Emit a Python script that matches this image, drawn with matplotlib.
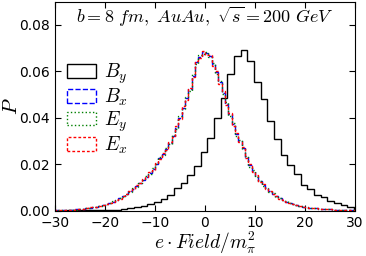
import matplotlib
matplotlib.use("Agg")
import matplotlib.pyplot as plt
import numpy as np

plt.rcParams['mathtext.fontset'] = 'cm'

# B_y: 46 bins of width 4/3, starting at -30.2
by_start = -30.2
by_width = 4.0 / 3.0
B_y = [0.0000, 0.0000, 0.0001, 0.0001, 0.0001, 0.0002, 0.0002, 0.0003, 0.0004,
       0.0005, 0.0007, 0.0010, 0.0015, 0.0020, 0.0028, 0.0036, 0.0049, 0.0068,
       0.0097, 0.0121, 0.0155, 0.0194, 0.0251, 0.0313, 0.0400, 0.0487, 0.0587,
       0.0664, 0.0693, 0.0645, 0.0554, 0.0482, 0.0388, 0.0309, 0.0241, 0.0195,
       0.0156, 0.0110, 0.0094, 0.0068, 0.0058, 0.0043, 0.0032, 0.0023, 0.0015,
       0.0009]

# B_x, E_y, E_x: 90 bins of width 2/3 from -30 to 30
e_start = -30.0
e_width = 2.0 / 3.0
B_x = [0.0001, 0.0001, 0.0002, 0.0002, 0.0003, 0.0004, 0.0006, 0.0008, 0.0009, 0.0010,
       0.0013, 0.0015, 0.0017, 0.0020, 0.0025, 0.0029, 0.0034, 0.0039, 0.0046, 0.0053,
       0.0062, 0.0072, 0.0083, 0.0094, 0.0106, 0.0119, 0.0133, 0.0147, 0.0163, 0.0180,
       0.0203, 0.0225, 0.0245, 0.0265, 0.0292, 0.0320, 0.0357, 0.0400, 0.0443, 0.0483,
       0.0523, 0.0580, 0.0638, 0.0660, 0.0681, 0.0678, 0.0666, 0.0630, 0.0595, 0.0552,
       0.0508, 0.0461, 0.0414, 0.0371, 0.0328, 0.0299, 0.0270, 0.0232, 0.0195, 0.0172,
       0.0150, 0.0126, 0.0111, 0.0097, 0.0084, 0.0072, 0.0063, 0.0054, 0.0046, 0.0039,
       0.0034, 0.0029, 0.0024, 0.0020, 0.0017, 0.0015, 0.0013, 0.0011, 0.0010, 0.0009,
       0.0008, 0.0007, 0.0006, 0.0005, 0.0005, 0.0004, 0.0003, 0.0003, 0.0002, 0.0002]
E_y = [0.0001, 0.0001, 0.0002, 0.0002, 0.0003, 0.0004, 0.0005, 0.0007, 0.0009, 0.0011,
       0.0012, 0.0015, 0.0018, 0.0021, 0.0024, 0.0030, 0.0033, 0.0040, 0.0045, 0.0054,
       0.0061, 0.0073, 0.0082, 0.0096, 0.0104, 0.0121, 0.0131, 0.0150, 0.0160, 0.0184,
       0.0199, 0.0229, 0.0240, 0.0270, 0.0288, 0.0326, 0.0351, 0.0406, 0.0436, 0.0490,
       0.0517, 0.0588, 0.0630, 0.0668, 0.0675, 0.0684, 0.0660, 0.0637, 0.0588, 0.0558,
       0.0501, 0.0467, 0.0408, 0.0377, 0.0322, 0.0304, 0.0264, 0.0237, 0.0190, 0.0176,
       0.0146, 0.0129, 0.0108, 0.0099, 0.0082, 0.0074, 0.0061, 0.0055, 0.0045, 0.0040,
       0.0033, 0.0030, 0.0023, 0.0021, 0.0016, 0.0015, 0.0012, 0.0011, 0.0010, 0.0009,
       0.0008, 0.0007, 0.0006, 0.0005, 0.0004, 0.0004, 0.0003, 0.0003, 0.0002, 0.0002]
E_x = [0.0001, 0.0001, 0.0002, 0.0003, 0.0003, 0.0004, 0.0006, 0.0008, 0.0008, 0.0010,
       0.0014, 0.0014, 0.0018, 0.0019, 0.0026, 0.0028, 0.0035, 0.0038, 0.0047, 0.0052,
       0.0064, 0.0070, 0.0085, 0.0092, 0.0109, 0.0117, 0.0136, 0.0144, 0.0167, 0.0177,
       0.0207, 0.0221, 0.0249, 0.0261, 0.0297, 0.0315, 0.0363, 0.0395, 0.0450, 0.0478,
       0.0530, 0.0574, 0.0644, 0.0655, 0.0688, 0.0672, 0.0671, 0.0624, 0.0601, 0.0546,
       0.0514, 0.0455, 0.0420, 0.0365, 0.0333, 0.0294, 0.0275, 0.0228, 0.0199, 0.0168,
       0.0153, 0.0123, 0.0114, 0.0094, 0.0086, 0.0070, 0.0065, 0.0052, 0.0047, 0.0038,
       0.0035, 0.0028, 0.0025, 0.0019, 0.0018, 0.0014, 0.0013, 0.0011, 0.0010, 0.0009,
       0.0008, 0.0007, 0.0006, 0.0005, 0.0005, 0.0004, 0.0003, 0.0003, 0.0002, 0.0002]


def hist_step(ax, start, width, vals, **kw):
    vals = np.asarray(vals)
    edges = start + width * np.arange(len(vals) + 1)
    centers = 0.5 * (edges[:-1] + edges[1:])
    ax.hist(centers, bins=edges, weights=vals, histtype='step', **kw)


fig = plt.figure(figsize=(3.66, 2.56), dpi=100)
ax = fig.add_axes([0.150, 0.177, 0.820, 0.817])

hist_step(ax, by_start, by_width, B_y, color='black', lw=1.0, label='$B_y$')
hist_step(ax, e_start, e_width, B_x, color='blue', lw=1.0, ls='--', label='$B_x$')
hist_step(ax, e_start, e_width, E_y, color='green', lw=1.0, ls=':', label='$E_y$')
hist_step(ax, e_start, e_width, E_x, color='red', lw=1.0, ls=(0, (2, 1.5)), label='$E_x$')

ax.set_xlim(-30, 30)
ax.set_ylim(0, 0.09)
ax.set_xticks([-30, -20, -10, 0, 10, 20, 30])
ax.set_yticks([0.0, 0.02, 0.04, 0.06, 0.08])
ax.set_yticklabels(['0.00', '0.02', '0.04', '0.06', '0.08'])
ax.tick_params(direction='in', top=True, right=True, labelsize=10, length=4)
ax.tick_params(axis='x', pad=4)

ax.set_xlabel(r'$e\cdot Field/m_\pi^2$', fontsize=14)
ax.xaxis.set_label_coords(0.5, -0.215)
ax.xaxis.label.set_va('bottom')
ax.set_ylabel(r'$P$', fontsize=15)
ax.yaxis.set_label_coords(-0.145, 0.5)
ax.yaxis.label.set_va('center')
ax.text(0.5, 0.925, r'$b=8\ fm,\ AuAu,\ \sqrt{s}=200\ GeV$', transform=ax.transAxes,
        ha='center', va='center', fontsize=13)

ax.legend(loc='upper left', bbox_to_anchor=(0.0, 0.77), frameon=False, fontsize=14,
          handlelength=1.5, handleheight=0.7, labelspacing=0.05, handletextpad=0.4,
          borderaxespad=0.2)

fig.savefig('out.png', dpi=100)
